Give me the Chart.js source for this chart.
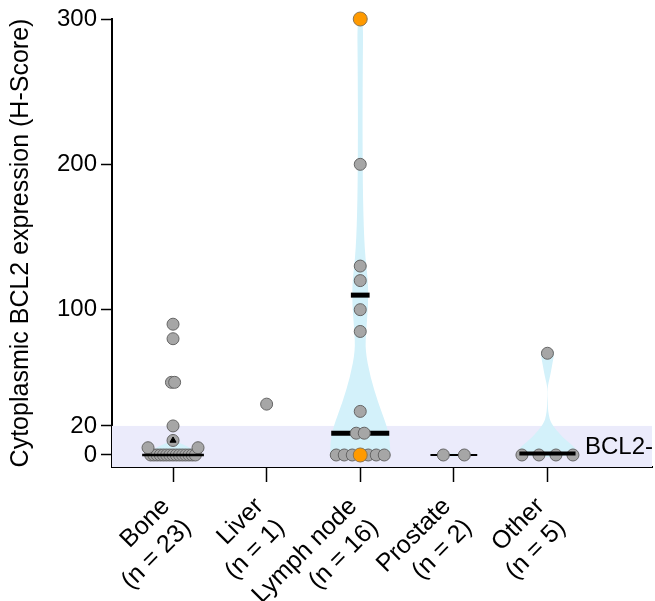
<!DOCTYPE html>
<html>
<head>
<meta charset="utf-8">
<script src="https://cdn.jsdelivr.net/npm/chart.js@4/dist/chart.umd.min.js"></script>
<style>
  html, body { margin: 0; padding: 0; background: #ffffff; }
  #wrap { width: 655px; height: 601px; }
</style>
</head>
<body>
<div id="wrap"><canvas id="c" width="655" height="601"></canvas></div>
<script>
// ---- data ----
const siteNames = ["Bone", "Liver", "Lymph node", "Prostate", "Other"];
const siteCounts = [23, 1, 16, 2, 5];

const boneScores = [0, 0, 0, 0, 0, 0, 0, 0, 0, 0, 0, 0, 0, 0, 0, 5, 5, 10, 20, 50, 50, 80, 90];
const liverScores = [35];
const lymphScores = [0, 0, 0, 0, 0, 0, 0, 15, 15, 30, 85, 100, 120, 130, 200, 300];
const prostateScores = [0, 0];
const otherScores = [0, 0, 0, 0, 70];

// cases drawn in orange (per site)
const highlightedScores = [[], [], [0, 300], [], []];

// horizontal summary bars (site index, score)
const barSites = [0, 2, 2, 3, 4];
const barScores = [0, 15, 110, 0, 1];

// small black triangle marker
const markerSites = [0];
const markerScores = [10];

// violin outlines: score levels and half-widths (in site-spacing units)
const boneViolinLevels = [-2, 0, 3, 6, 9, 11];
const boneViolinWidths = [0, 0.21, 0.235, 0.15, 0.04, 0];
const lymphViolinLevels = [-3.5, -2, 0, 8, 19, 36, 54, 72, 86, 104, 118, 141, 175, 220, 270, 297, 301];
const lymphViolinWidths = [0, 0.235, 0.32, 0.32, 0.29, 0.19, 0.107, 0.053, 0.064, 0.085, 0.085, 0.046, 0.029, 0.024, 0.027, 0.032, 0];
const prostateViolinLevels = [-1, 0, 1];
const prostateViolinWidths = [0, 0.3, 0];
const otherViolinLevels = [-1.5, 0, 1.4, 5.5, 12, 22, 28, 32, 38, 43, 48, 51.5, 57, 63, 70, 72.5, 74];
const otherViolinWidths = [0, 0.31, 0.32, 0.29, 0.16, 0.035, 0.013, 0.005, 0.003, 0, 0.005, 0.018, 0.037, 0.053, 0.075, 0.053, 0];

const yTickValues = [0, 20, 100, 200, 300];
const negativeCutoff = 20;
const negativeLabel = "BCL2-";

// ---- layout / style ----
const Y_MIN = -8.26, Y_MAX = 300;
const X_MIN = -0.652, X_MAX = 5.117;
const PLOT_LEFT = 112, PLOT_TOP = 19, PLOT_RIGHT = 652, PLOT_BOTTOM = 467;
const PX_PER_Y = (PLOT_BOTTOM - PLOT_TOP) / (Y_MAX - Y_MIN);
const PX_PER_SITE = (PLOT_RIGHT - PLOT_LEFT) / (X_MAX - X_MIN);
const DOT_GAP = 12;
const siteSpread = [25, 0, 24, 10.5, 25.5];   // max horizontal spread of a swarm, px
const barHalfWidths = [0.33, 0.31, 0.1, 0.25, 0.3];
const barThickness = [2.5, 5, 5, 2, 4];
const barAboveDots = [true, false, false, false, true];
const FONT = "'Liberation Sans', Arial, Helvetica, sans-serif";

const siteScores = [boneScores, liverScores, lymphScores, prostateScores, otherScores];
const violins = [
  [0, boneViolinLevels, boneViolinWidths],
  [2, lymphViolinLevels, lymphViolinWidths],
  [3, prostateViolinLevels, prostateViolinWidths],
  [4, otherViolinLevels, otherViolinWidths]
];

// Beeswarm placement: ties are laid out symmetrically, clashes pushed outward,
// then the whole swarm is squeezed into the site's spread.
function swarm(values, spread, highlighted) {
  const pts = values.map(v => ({ v: v, hl: false, dx: 0 })).sort((a, b) => a.v - b.v);
  highlighted.forEach(h => {
    const p = pts.find(q => q.v === h && !q.hl);
    if (p) p.hl = true;
  });
  const placed = [];
  const clash = (dx, v) => placed.some(o => Math.hypot(dx - o.dx, (v - o.v) * PX_PER_Y) < DOT_GAP - 0.01);
  let i = 0;
  while (i < pts.length) {
    let j = i;
    while (j < pts.length && pts[j].v === pts[i].v) j++;
    const group = pts.slice(i, j);
    const hi = group.findIndex(p => p.hl);
    if (hi >= 0) {
      const [p] = group.splice(hi, 1);
      group.splice(Math.floor(group.length / 2), 0, p);
    }
    const k = group.length;
    const sym = group.map((p, m) => (m - (k - 1) / 2) * DOT_GAP);
    if (group.every((p, m) => !clash(sym[m], p.v))) {
      group.forEach((p, m) => { p.dx = sym[m]; });
      group.forEach(p => placed.push(p));
    } else {
      group.forEach(p => {
        for (let s = 0; s < 1000; s++) {
          const cands = s === 0 ? [0] : [s, -s];
          const ok = cands.find(c => !clash(c, p.v));
          if (ok !== undefined) { p.dx = ok; break; }
        }
        placed.push(p);
      });
    }
    i = j;
  }
  const maxAbs = Math.max(0, ...placed.map(p => Math.abs(p.dx)));
  const f = maxAbs > 0 ? spread / maxAbs : 0;
  placed.forEach(p => { p.dx *= f; });
  return placed;
}

const grayPoints = [], orangePoints = [];
siteScores.forEach((vals, s) => {
  swarm(vals, siteSpread[s], highlightedScores[s]).forEach(p => {
    const pt = { x: s + p.dx / PX_PER_SITE, y: p.v };
    (p.hl ? orangePoints : grayPoints).push(pt);
  });
});

// lower `order` is painted later (on top)
const datasets = [];
datasets.push({
  type: 'scatter', data: grayPoints, order: 1, clip: false,
  pointRadius: 6, pointHoverRadius: 6,
  backgroundColor: '#a6a6a6', borderColor: '#656565', borderWidth: 1
});
datasets.push({
  type: 'scatter', data: orangePoints, order: 0.5, clip: false,
  pointRadius: 7, pointHoverRadius: 7,
  backgroundColor: '#ff9a00', borderColor: '#8c7550', borderWidth: 1
});
datasets.push({
  type: 'scatter', order: -1, clip: false,
  data: markerSites.map((s, i) => ({ x: s, y: markerScores[i] })),
  pointStyle: 'triangle', pointRadius: 3.5, backgroundColor: '#000', borderColor: '#000', borderWidth: 1
});
barSites.forEach((s, i) => {
  datasets.push({
    type: 'line', order: barAboveDots[s] ? 0 : 2,
    data: [{ x: s - barHalfWidths[i], y: barScores[i] }, { x: s + barHalfWidths[i], y: barScores[i] }],
    borderColor: '#000', borderWidth: barThickness[i], pointRadius: 0, borderCapStyle: 'butt',
    fill: false, clip: false
  });
});

// shaded negative band, violins and the band label
const backdrop = {
  id: 'backdrop',
  beforeDatasetsDraw(chart) {
    const { ctx, chartArea: a, scales: { x, y } } = chart;
    ctx.save();
    ctx.fillStyle = '#ebebfb';
    const yTop = y.getPixelForValue(negativeCutoff);
    ctx.fillRect(a.left, yTop, a.right - a.left, a.bottom - yTop);

    ctx.fillStyle = '#d3f1fa';
    violins.forEach(([site, levels, widths]) => {
      const right = levels.map((lv, k) => [x.getPixelForValue(site + widths[k]), y.getPixelForValue(lv)]);
      const left = levels.map((lv, k) => [x.getPixelForValue(site - widths[k]), y.getPixelForValue(lv)]).reverse();
      const ring = right.concat(left);
      ctx.beginPath();
      ctx.moveTo(ring[0][0], ring[0][1]);
      for (let k = 1; k < ring.length - 1; k++) {
        const mx = (ring[k][0] + ring[k + 1][0]) / 2, my = (ring[k][1] + ring[k + 1][1]) / 2;
        ctx.quadraticCurveTo(ring[k][0], ring[k][1], mx, my);
      }
      ctx.lineTo(ring[ring.length - 1][0], ring[ring.length - 1][1]);
      ctx.closePath();
      ctx.fill();
    });
    ctx.restore();
  },
  afterDatasetsDraw(chart) {
    const { ctx, chartArea: a, scales: { y } } = chart;
    ctx.save();
    ctx.fillStyle = '#000';
    ctx.font = '24px ' + FONT;
    ctx.textAlign = 'right';
    ctx.textBaseline = 'middle';
    ctx.fillText(negativeLabel, a.right + 1, y.getPixelForValue(5));
    ctx.restore();
  }
};

new Chart(document.getElementById('c'), {
  data: { datasets: datasets },
  plugins: [backdrop],
  options: {
    responsive: false,
    animation: false,
    devicePixelRatio: 1,
    events: [],
    layout: { autoPadding: false, padding: { left: 0, top: PLOT_TOP, right: 655 - PLOT_RIGHT, bottom: 0 } },
    plugins: { legend: { display: false }, tooltip: { enabled: false } },
    scales: {
      x: {
        type: 'linear', min: X_MIN, max: X_MAX,
        afterBuildTicks: sc => { sc.ticks = siteNames.map((n, i) => ({ value: i })); },
        afterFit: sc => { sc.height = 601 - PLOT_BOTTOM; },
        ticks: {
          autoSkip: false, minRotation: 45, maxRotation: 45, padding: 10, labelOffset: -7,
          color: '#000', font: { family: FONT, size: 25 },
          callback: v => [siteNames[v], '(n = ' + siteCounts[v] + ')']
        },
        grid: { display: true, drawOnChartArea: false, drawTicks: true, tickLength: 15, color: '#000', tickWidth: 1.5 },
        border: { display: true, color: '#000', width: 2 }
      },
      y: {
        type: 'linear', min: Y_MIN, max: Y_MAX,
        afterBuildTicks: sc => { sc.ticks = yTickValues.map(v => ({ value: v })); },
        afterFit: sc => { sc.width = PLOT_LEFT; },
        ticks: { padding: 4, color: '#000', font: { family: FONT, size: 24 } },
        grid: { display: true, drawOnChartArea: false, drawTicks: true, tickLength: 11, color: '#000', tickWidth: 1.5 },
        border: { display: true, color: '#000', width: 2 },
        title: {
          display: true, text: 'Cytoplasmic BCL2 expression (H-Score)', color: '#000',
          font: { family: FONT, size: 25 }, padding: { top: 6, bottom: 0 }
        }
      }
    }
  }
});
</script>
</body>
</html>
